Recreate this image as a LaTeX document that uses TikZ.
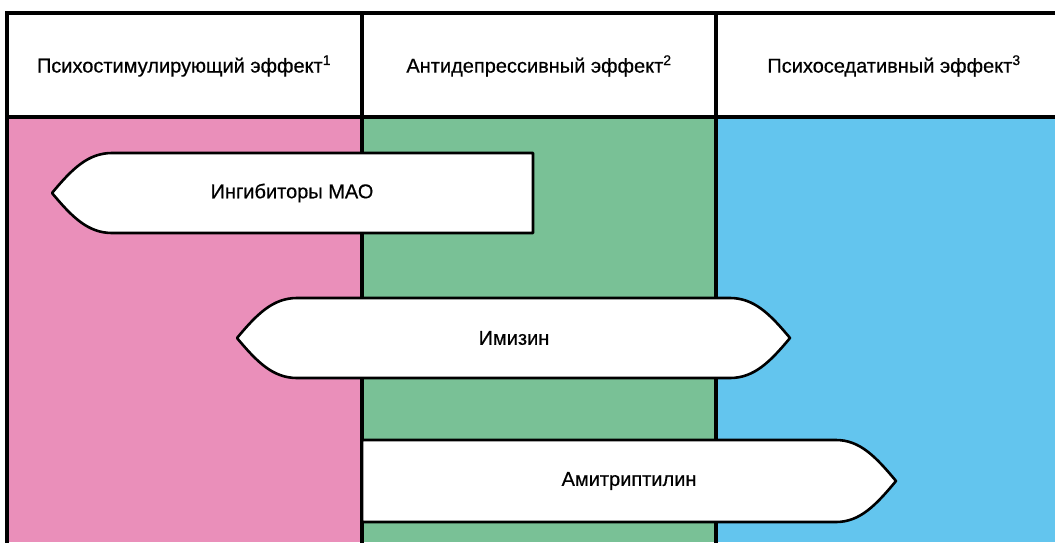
\documentclass[tikz,border=0pt]{standalone}
\usepackage{fontspec}
\setmainfont{Liberation Sans}
\newfontfamily\lblfont{Liberation Sans}[FakeBold=0.5]
\definecolor{pinkfill}{HTML}{EA8FBA}
\definecolor{greenfill}{HTML}{79C196}
\definecolor{bluefill}{HTML}{63C5EE}
\begin{document}
\begin{tikzpicture}[x=1pt,y=-1pt,
  border/.style={line width=3.2pt,draw=black,line cap=rect},
  pill/.style={draw=black,fill=white,line width=2.6pt,line join=round},
  lbl/.style={font=\lblfont\fontsize{20}{23}\selectfont,inner sep=0pt}]
\useasboundingbox (0,0) rectangle (1055,542);
\fill[white] (0,0) rectangle (1055,542);
\fill[pinkfill] (7,117) rectangle (362,542);
\fill[greenfill] (362,117) rectangle (716,542);
\fill[bluefill] (716,117) rectangle (1055,542);
\draw[border] (7,545) -- (7,13) -- (1058,13);
\draw[border] (7,117) -- (1058,117);
\draw[border] (362,13) -- (362,545);
\draw[border] (716,13) -- (716,545);
\node[lbl] (h1) at (184,66) {Психостимулирующий эффект\textsuperscript{1}};
\node[lbl] (h2) at (539,66) {Антидепрессивный эффект\textsuperscript{2}};
\node[lbl] (h3) at (894,66) {Психоседативный эффект\textsuperscript{3}};
% MAO inhibitors
\draw[pill] (52,193) .. controls (72,169) and (88,153) .. (112,153) -- (533,153) -- (533,233) -- (112,233) .. controls (88,233) and (72,217) .. (52,193) -- cycle;
\node[lbl] (mao) at (292,193) {Ингибиторы МАО};
% Imizin
\draw[pill] (237,338) .. controls (257,314) and (273,298) .. (297,298) -- (730,298) .. controls (754,298) and (770,314) .. (790,338) .. controls (770,362) and (754,378) .. (730,378) -- (297,378) .. controls (273,378) and (257,362) .. (237,338) -- cycle;
\node[lbl] (imizin) at (514,338) {Имизин};
% Amitriptyline
\draw[pill] (362,440) -- (836,440) .. controls (860,440) and (876,457) .. (896,481) .. controls (876,505) and (860,522) .. (836,522) -- (362,522) -- cycle;
\node[lbl] (amit) at (629,481) {Амитриптилин};
\end{tikzpicture}
\end{document}
